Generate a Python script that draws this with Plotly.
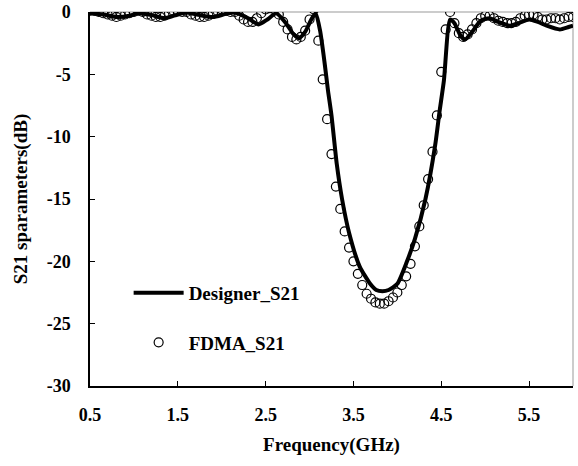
import plotly.graph_objects as go

# Designer_S21 (solid line)
designer_freq = [0.5, 0.65, 0.8, 0.95, 1.05, 1.2, 1.35, 1.5, 1.6, 1.75, 1.9, 2.05, 2.15, 2.3, 2.42,
                 2.52, 2.62, 2.72, 2.82, 2.88, 2.95, 3.02, 3.07, 3.12, 3.17, 3.21, 3.25, 3.31, 3.37,
                 3.45, 3.57, 3.69, 3.76, 3.83, 3.9, 4.0, 4.11, 4.2, 4.32, 4.43, 4.48, 4.53, 4.6,
                 4.65, 4.72, 4.77, 4.85, 4.95, 5.05, 5.15, 5.28, 5.38, 5.5, 5.6, 5.7, 5.85, 5.95, 6.0]
designer_s21 = [-0.1, -0.2, -0.4, -0.3, -0.1, -0.25, -0.5, -0.2, -0.05, -0.25, -0.4, -0.15, -0.05, -0.5, -1.0,
                -0.6, -0.1, -0.8, -1.8, -2.1, -1.6, -0.6, -0.1, -1.5, -4.0, -6.3, -8.3, -12.2, -15.0,
                -17.7, -20.4, -21.8, -22.3, -22.4, -22.3, -21.8, -20.0, -18.2, -15.0, -10.7, -8.0, -5.5, -0.6,
                -0.9, -1.9, -2.2, -1.6, -0.7, -0.5, -0.8, -1.1, -0.9, -0.6, -0.8, -1.1, -1.4, -1.2, -1.1]

# FDMA_S21 (open circles)
fdma_freq = [0.5, 0.55, 0.6, 0.65, 0.7, 0.75, 0.8, 0.85, 0.9, 0.95, 1.0, 1.05, 1.1, 1.15, 1.2, 1.25,
             1.3, 1.35, 1.4, 1.45, 1.5, 1.55, 1.6, 1.65, 1.7, 1.75, 1.8, 1.85, 1.9, 1.95, 2.0, 2.05,
             2.1, 2.15, 2.2, 2.25, 2.3, 2.35, 2.4, 2.45, 2.5, 2.55, 2.6, 2.65, 2.7, 2.75, 2.8, 2.85,
             2.9, 2.95, 3.0, 3.05, 3.1, 3.15, 3.2, 3.25, 3.3, 3.35, 3.4, 3.45, 3.5, 3.55, 3.6, 3.65,
             3.7, 3.75, 3.8, 3.85, 3.9, 3.95, 4.0, 4.05, 4.1, 4.15, 4.2, 4.25, 4.3, 4.35, 4.4, 4.45,
             4.5, 4.55, 4.6, 4.65, 4.7, 4.75, 4.8, 4.85, 4.9, 4.95, 5.0, 5.05, 5.1, 5.15, 5.2, 5.25,
             5.3, 5.35, 5.4, 5.45, 5.5, 5.55, 5.6, 5.65, 5.7, 5.75, 5.8, 5.85, 5.9, 5.95, 6.0]
fdma_s21 = [0.1, 0.1, 0.0, -0.1, -0.2, -0.3, -0.4, -0.3, -0.2, -0.1, 0.0, 0.1, 0.0, -0.2, -0.3, -0.4,
            -0.4, -0.3, -0.1, 0.1, 0.1, 0.0, 0.0, -0.2, -0.3, -0.4, -0.4, -0.3, -0.1, 0.1, 0.2, 0.1,
            0.0, 0.0, -0.3, -0.6, -0.8, -0.8, -0.5, -0.1, 0.2, 0.3, 0.2, -0.2, -0.8, -1.4, -2.0, -2.2,
            -2.0, -1.5, -0.6, 0.2, -2.3, -5.4, -8.6, -11.4, -14.0, -15.8, -17.6, -18.9, -20.0, -21.0, -21.9, -22.6,
            -23.0, -23.3, -23.4, -23.4, -23.2, -22.9, -22.5, -21.9, -21.2, -20.2, -18.8, -17.2, -15.5, -13.4, -11.2, -8.3,
            -4.8, -1.4, 0.0, -0.9, -1.7, -2.0, -1.8, -1.4, -0.9, -0.5, -0.3, -0.3, -0.5, -0.7, -0.8, -0.9,
            -0.9, -0.8, -0.5, -0.3, -0.2, -0.2, -0.4, -0.6, -0.6, -0.5, -0.5, -0.6, -0.5, -0.4, -0.4]

x_ticks = [0.5, 1.5, 2.5, 3.5, 4.5, 5.5]
y_ticks = [0, -5, -10, -15, -20, -25, -30]

FONT = "Times New Roman, Liberation Serif, serif"

fig = go.Figure()
fig.add_trace(go.Scatter(
    x=designer_freq, y=designer_s21, mode="lines", name="<b>Designer_S21</b>",
    line=dict(color="black", width=4, shape="spline", smoothing=0.6),
    legendgroup="a",
))
fig.add_trace(go.Scatter(
    x=fdma_freq, y=fdma_s21, mode="markers", name="<b>FDMA_S21</b>",
    marker=dict(symbol="circle-open", size=9, color="black", line=dict(width=1.2)),
    legendgroup="b",
))

# gray top and right frame lines
fig.add_shape(type="line", xref="paper", yref="paper", x0=0, x1=1, y0=1, y1=1,
              line=dict(color="#999999", width=1), layer="below")
fig.add_shape(type="line", xref="paper", yref="paper", x0=1, x1=1, y0=0, y1=1,
              line=dict(color="#999999", width=1), layer="below")

fig.update_layout(
    width=578, height=466,
    margin=dict(l=90, r=5, t=12, b=80),
    paper_bgcolor="white", plot_bgcolor="white",
    font=dict(family=FONT, color="black", size=18),
    showlegend=True,
    legend=dict(
        x=0.08, y=0.30, xanchor="left", yanchor="top",
        font=dict(family=FONT, size=19, color="black"),
        bgcolor="rgba(0,0,0,0)", tracegroupgap=22, itemwidth=50,
    ),
    xaxis=dict(
        range=[0.5, 6.0], tickvals=x_ticks, ticktext=[f"<b>{v}</b>" for v in x_ticks],
        showline=True, linecolor="black", linewidth=1.5, ticks="inside", ticklen=5,
        tickcolor="black", showgrid=False, zeroline=False, automargin=False,
        ticklabelstandoff=12,
        title=dict(text="<b>Frequency(GHz)</b>", font=dict(size=19), standoff=13),
        tickfont=dict(size=18),
    ),
    yaxis=dict(
        range=[-30, 0], tickvals=y_ticks, ticktext=[f"<b>{v}</b>" for v in y_ticks],
        showline=True, linecolor="black", linewidth=1.5, ticks="inside", ticklen=5,
        tickcolor="black", showgrid=False, zeroline=False, automargin=False,
        ticklabelstandoff=14,
        title=dict(text="<b>S21 sparameters(dB)</b>", font=dict(size=19), standoff=14),
        tickfont=dict(size=18),
    ),
)

fig.write_html("out.html", config={"displayModeBar": False},
               post_script="document.body.style.margin='0';document.body.style.overflow='hidden';")
